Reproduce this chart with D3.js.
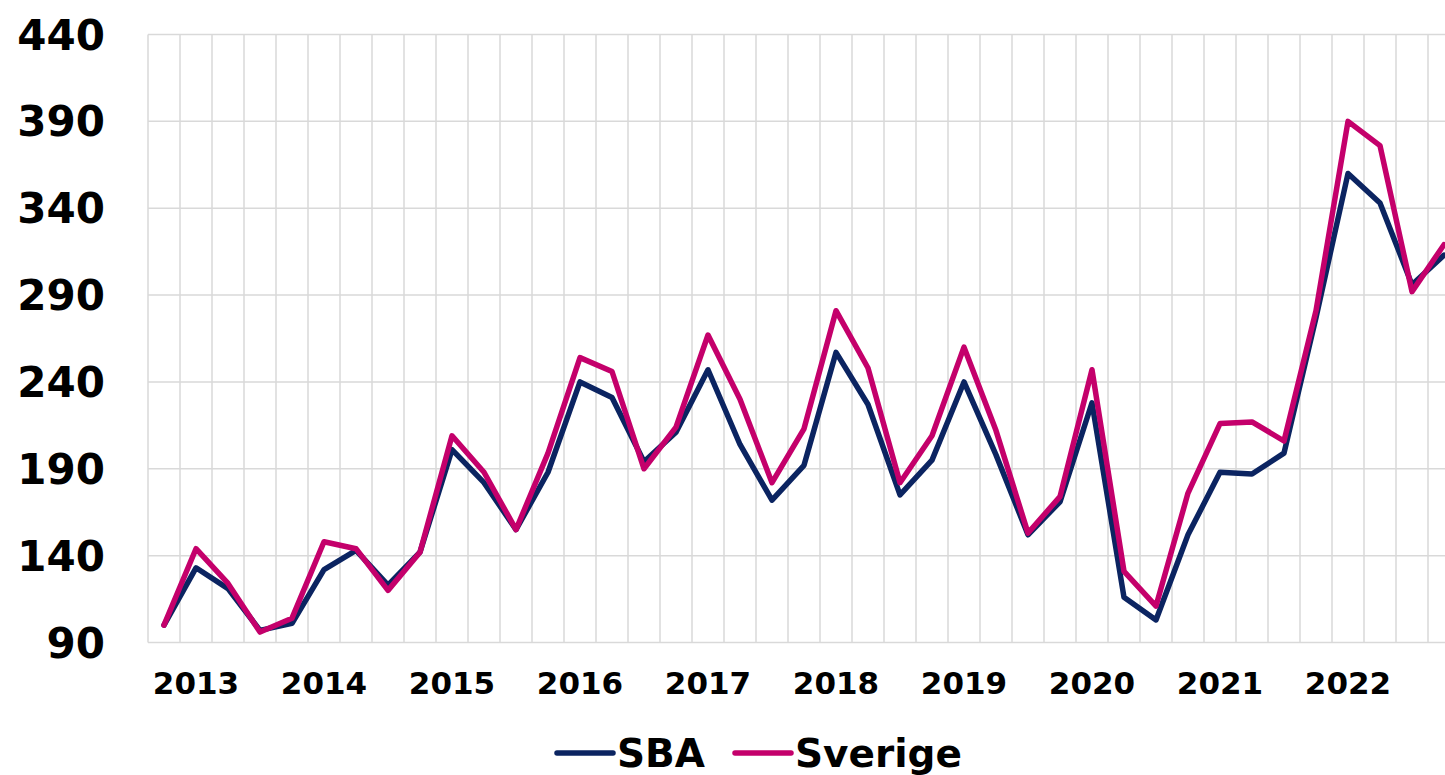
<!DOCTYPE html>
<html lang="sv">

<head>
    <meta charset="UTF-8">
    <title>SBA och Sverige</title>
    <script src="https://cdn.jsdelivr.net/npm/d3@7"></script>
</head>

<body>
    <script>
        // kvartal 2013K1 .. 2023K1
        const years = d3.range(2013, 2024);
        const quarters = years.flatMap(y => [1, 2, 3, 4].map(q => y + "K" + q)).slice(0, 41);
        const yearLabels = d3.range(2013, 2023).map(String);
        const yTicks = [90, 140, 190, 240, 290, 340, 390, 440];

        const sba = [100, 133, 121, 97, 101, 132, 143, 123, 142, 201,
            182, 155, 188, 240, 231, 194, 211, 247, 204, 172,
            192, 257, 227, 175, 195, 240, 198, 152, 171, 228,
            116, 103, 152, 188, 187, 199, 277, 360, 343, 296, 313];
        const sverige = [100, 144, 124, 96, 104, 148, 144, 120, 142, 209,
            188, 155, 199, 254, 246, 190, 214, 267, 230, 182,
            213, 281, 248, 182, 209, 260, 212, 153, 174, 247,
            131, 111, 176, 216, 217, 206, 281, 390, 376, 292, 319];

        const series = [
            { name: "SBA", values: sba, color: "#0b2461" },
            { name: "Sverige", values: sverige, color: "#c4006b" }
        ];

        const width = 1445, height = 775;
        const svg = d3.select("body").append("svg").attr("width", width).attr("height", height);

        const x = d3.scaleBand().domain(quarters).range([148, 148 + 41 * 32]);
        const y = d3.scaleLinear().domain([90, 440]).range([642.5, 34.5]);
        const cx = q => x(q) + x.bandwidth() / 2;

        // rutnät
        svg.append("g")
            .selectAll("line")
            .data(yTicks)
            .join("line")
            .attr("x1", 148).attr("x2", width)
            .attr("y1", d => y(d)).attr("y2", d => y(d))
            .attr("stroke", "#d9d9d9").attr("stroke-width", 1.5);

        svg.append("g")
            .selectAll("line")
            .data(quarters)
            .join("line")
            .attr("x1", d => x(d)).attr("x2", d => x(d))
            .attr("y1", y(440)).attr("y2", y(90))
            .attr("stroke", "#d9d9d9").attr("stroke-width", 1.5);

        // y-axel
        svg.append("g")
            .selectAll("text")
            .data(yTicks)
            .join("text")
            .attr("x", 105)
            .attr("y", d => y(d))
            .attr("dy", "0.36em")
            .attr("text-anchor", "end")
            .style("font", "bold 42px 'DejaVu Sans'")
            .text(d => d);

        // x-axel, år vid andra kvartalet
        svg.append("g")
            .selectAll("text")
            .data(yearLabels)
            .join("text")
            .attr("x", d => cx(d + "K2"))
            .attr("y", 683)
            .attr("dy", "0.36em")
            .attr("text-anchor", "middle")
            .style("font", "bold 31px 'DejaVu Sans'")
            .text(d => d);

        const line = d3.line()
            .x((d, i) => cx(quarters[i]))
            .y(d => y(d));

        svg.append("g")
            .selectAll("path")
            .data(series)
            .join("path")
            .attr("d", d => line(d.values))
            .attr("fill", "none")
            .attr("stroke", d => d.color)
            .attr("stroke-width", 5.5)
            .attr("stroke-linejoin", "round")
            .attr("stroke-linecap", "round");

        // legend
        const legendX = [557, 735];
        const lg = svg.append("g")
            .selectAll("g")
            .data(series)
            .join("g")
            .attr("transform", (d, i) => `translate(${legendX[i]},753)`);
        lg.append("line")
            .attr("x1", 0).attr("x2", 56)
            .attr("stroke", d => d.color)
            .attr("stroke-width", 5.5)
            .attr("stroke-linecap", "round");
        lg.append("text")
            .attr("x", 60)
            .attr("dy", "0.36em")
            .style("font", "bold 39px 'DejaVu Sans'")
            .text(d => d.name);
    </script>
    <style>
        * {
            margin: 0;
            padding: 0;
        }
        svg {
            display: block;
        }
    </style>
</body>

</html>
